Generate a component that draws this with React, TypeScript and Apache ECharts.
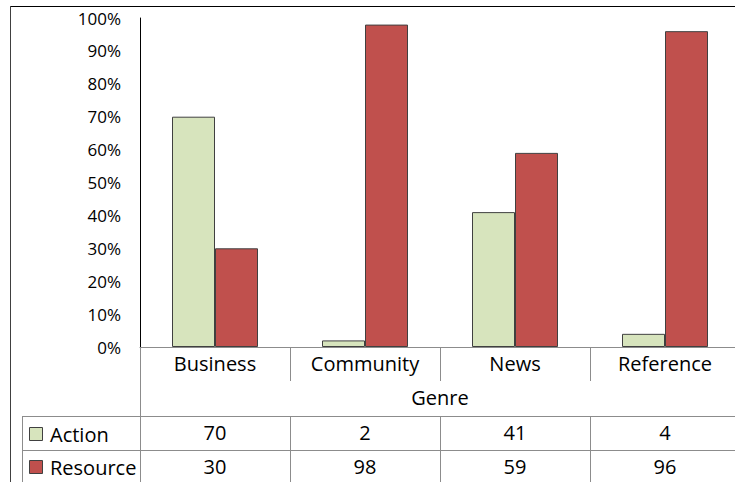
import React, { useEffect, useRef } from "react";
import * as echarts from "echarts";

const categories = ["Business", "Community", "News", "Reference"];
const actionValues = [70, 2, 41, 4];
const resourceValues = [30, 98, 59, 96];
const seriesNames = ["Action", "Resource"];
const xAxisTitle = "Genre";
const yMin = 0;
const yMax = 100;
const yStep = 10;

export default function App() {
  const ref = useRef<HTMLDivElement>(null);

  useEffect(() => {
    document.body.style.margin = "0";
    const chart = echarts.init(ref.current as HTMLDivElement, null, { renderer: "svg" });
    const gridColor = "#8c8c8c";
    const font = "'Open Sans', sans-serif";
    const colors = ["#D7E4BD", "#C0504D"];

    const tableAxis = (values: number[], offset: number) => ({
      type: "category",
      data: values.map(String),
      gridIndex: 0,
      position: "bottom",
      offset,
      axisLine: { show: true, lineStyle: { color: gridColor, width: 1 } },
      axisTick: { show: true, alignWithLabel: false, length: 34, lineStyle: { color: gridColor, width: 1 } },
      axisLabel: { color: "#000", fontSize: 20, fontFamily: font, margin: 6 },
      splitLine: { show: false },
    });

    const option: any = {
      animation: false,
      backgroundColor: "#fff",
      textStyle: { fontFamily: font },
      grid: { left: 140, top: 18, width: 600, height: 329, containLabel: false },
      xAxis: [
        {
          type: "category",
          data: categories,
          position: "bottom",
          name: xAxisTitle,
          nameLocation: "middle",
          nameGap: 40,
          nameTextStyle: { color: "#000", fontSize: 20, fontFamily: font },
          axisLine: { show: true, lineStyle: { color: gridColor, width: 1 } },
          axisTick: { show: true, alignWithLabel: false, length: 34, lineStyle: { color: gridColor, width: 1 } },
          axisLabel: { color: "#000", fontSize: 20, fontFamily: font, margin: 6 },
          splitLine: { show: false },
        },
        tableAxis(actionValues, 69),
        tableAxis(resourceValues, 103),
      ],
      yAxis: {
        type: "value",
        min: yMin,
        max: yMax,
        interval: yStep,
        axisLine: { show: true, lineStyle: { color: "#000", width: 1 } },
        axisTick: { show: false },
        splitLine: { show: false },
        axisLabel: { color: "#000", fontSize: 17, fontFamily: font, margin: 19, formatter: "{value}%" },
      },
      series: [
        {
          name: seriesNames[0],
          type: "bar",
          data: actionValues,
          xAxisIndex: 0,
          barWidth: 43,
          barGap: "0%",
          itemStyle: { color: colors[0], borderColor: "#404040", borderWidth: 1 },
        },
        {
          name: seriesNames[1],
          type: "bar",
          data: resourceValues,
          xAxisIndex: 0,
          barWidth: 43,
          barGap: "0%",
          itemStyle: { color: colors[1], borderColor: "#404040", borderWidth: 1 },
        },
      ],
      graphic: [
        { type: "line", shape: { x1: 10, y1: 6.5, x2: 745, y2: 6.5 }, style: { stroke: "#000", lineWidth: 1 } },
        { type: "line", shape: { x1: 10.5, y1: 6, x2: 10.5, y2: 482 }, style: { stroke: "#404040", lineWidth: 1 } },
        { type: "line", shape: { x1: 140.5, y1: 347, x2: 140.5, y2: 482 }, style: { stroke: gridColor, lineWidth: 1 } },
        { type: "line", shape: { x1: 22.5, y1: 416, x2: 22.5, y2: 482 }, style: { stroke: gridColor, lineWidth: 1 } },
        { type: "line", shape: { x1: 22, y1: 416.5, x2: 140, y2: 416.5 }, style: { stroke: gridColor, lineWidth: 1 } },
        { type: "line", shape: { x1: 22, y1: 450.5, x2: 140, y2: 450.5 }, style: { stroke: gridColor, lineWidth: 1 } },
        { type: "rect", shape: { x: 29.5, y: 427.5, width: 13, height: 13 }, style: { fill: colors[0], stroke: "#404040", lineWidth: 1 } },
        { type: "rect", shape: { x: 29.5, y: 460.5, width: 13, height: 13 }, style: { fill: colors[1], stroke: "#404040", lineWidth: 1 } },
        { type: "text", x: 50, y: 434, style: { text: seriesNames[0], fill: "#000", fontSize: 20, fontFamily: font, verticalAlign: "middle", align: "left" } },
        { type: "text", x: 50, y: 467, style: { text: seriesNames[1], fill: "#000", fontSize: 20, fontFamily: font, verticalAlign: "middle", align: "left" } },
      ],
    };

    chart.setOption(option);
    return () => chart.dispose();
  }, []);

  return (
    <div style={{ width: 735, height: 482, position: "absolute", left: 0, top: 0, overflow: "hidden" }}>
      <div ref={ref} style={{ width: 750, height: 482 }} />
    </div>
  );
}
